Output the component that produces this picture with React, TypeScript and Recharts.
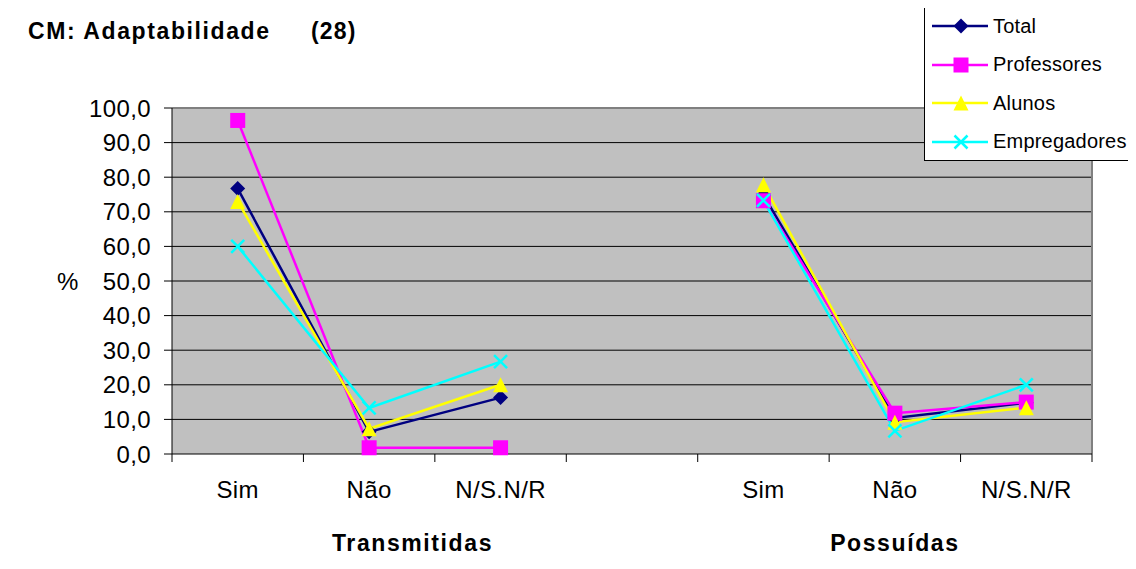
import React from 'react';
import {
  LineChart, Line, XAxis, YAxis, CartesianGrid, ReferenceLine, Label,
} from 'recharts';

const categories = ['Sim', 'Não', 'N/S.N/R', '', 'Sim', 'Não', 'N/S.N/R'];
const groupLabels = ['Transmitidas', 'Possuídas'];
const groupCenters = [1.83, 5.5];
const total = [76.7, 6.4, 16.3, null, 74.8, 10.4, 14.8];
const professores = [96.4, 1.8, 1.8, null, 73.2, 11.8, 15.0];
const alunos = [73.0, 7.3, 20.0, null, 77.8, 9.2, 13.4];
const empregadores = [60.0, 13.3, 26.7, null, 73.3, 6.7, 20.0];
const yTicks = [0, 10, 20, 30, 40, 50, 60, 70, 80, 90, 100];
const gridValues = [10, 20, 30, 40, 50, 60, 70, 80, 90];

const data = categories.map((c, i) => ({
  x: i + 0.5,
  cat: c,
  Total: total[i],
  Professores: professores[i],
  Alunos: alunos[i],
  Empregadores: empregadores[i],
}));

const slotEdges = categories.map((_, i) => i).concat([categories.length]);
const catCenters = categories.map((c, i) => (c ? i + 0.5 : null)).filter((v) => v !== null) as number[];

const FONT = '"Liberation Sans", Arial, sans-serif';

const series = [
  { key: 'Total', color: '#000080', shape: 'diamond' },
  { key: 'Professores', color: '#FF00FF', shape: 'square' },
  { key: 'Alunos', color: '#FFFF00', shape: 'triangle' },
  { key: 'Empregadores', color: '#00FFFF', shape: 'x' },
];

function Marker({ cx, cy, shape, color }: any) {
  if (cx == null || cy == null || isNaN(cx) || isNaN(cy)) return <g />;
  if (shape === 'diamond') {
    const r = 7.5;
    return <polygon points={`${cx},${cy - r} ${cx + r},${cy} ${cx},${cy + r} ${cx - r},${cy}`} fill={color} />;
  }
  if (shape === 'square') {
    const r = 7.5;
    return <rect x={cx - r} y={cy - r} width={2 * r} height={2 * r} fill={color} />;
  }
  if (shape === 'triangle') {
    const r = 7.5;
    return <polygon points={`${cx},${cy - r} ${cx + r},${cy + r} ${cx - r},${cy + r}`} fill={color} />;
  }
  const r = 6.5;
  return (
    <g stroke={color} strokeWidth={2.5}>
      <line x1={cx - r} y1={cy - r} x2={cx + r} y2={cy + r} />
      <line x1={cx - r} y1={cy + r} x2={cx + r} y2={cy - r} />
    </g>
  );
}

function LegendBox() {
  return (
    <div
      style={{
        position: 'absolute',
        left: 916,
        top: -2,
        width: 212,
        height: 153,
        borderLeft: '1px solid #000',
        borderTop: '1px solid #000',
        borderBottom: '1px solid #000',
        background: '#fff',
        fontFamily: FONT,
        fontSize: 20,
        letterSpacing: 0.2,
        zIndex: 2,
        overflow: 'hidden',
      }}
    >
      {series.map((s, i) => (
        <div key={s.key} style={{ position: 'absolute', left: 0, top: 19 + i * 38.5 - 14, height: 28, display: 'flex', alignItems: 'center' }}>
          <svg width={68} height={28}>
            <line x1={7} y1={14} x2={63} y2={14} stroke={s.color} strokeWidth={2.5} />
            <Marker cx={36} cy={14} shape={s.shape} color={s.color} />
          </svg>
          <span style={{ color: '#000', whiteSpace: 'nowrap' }}>{s.key}</span>
        </div>
      ))}
    </div>
  );
}

const tickStyle = { fontSize: 24, fill: '#000', fontFamily: FONT, letterSpacing: 0.4 };
const groupStyle = { fontSize: 23, fill: '#000', fontFamily: FONT, fontWeight: 'bold', letterSpacing: 1.6 };

export default function App() {
  return (
    <div style={{ position: 'relative', width: 1128, height: 561, background: '#fff' }}>
      <svg style={{ position: 'absolute', left: 0, top: 0 }} width={400} height={60}>
        <text x={20} y={31} fontFamily={FONT} fontSize={23} fontWeight="bold" letterSpacing={1.6} fill="#000">CM: Adaptabilidade</text>
        <text x={303} y={31} fontFamily={FONT} fontSize={23} fontWeight="bold" letterSpacing={1.2} fill="#000">(28)</text>
      </svg>
      <LineChart width={1128} height={561} data={data} margin={{ top: 100, right: 44, bottom: 0, left: 0 }}>
        <CartesianGrid horizontal vertical={false} stroke="#000" strokeWidth={1} fill="#C0C0C0" horizontalValues={gridValues} />
        <XAxis
          xAxisId="a_ticks"
          type="number"
          dataKey="x"
          domain={[0, categories.length]}
          ticks={slotEdges}
          interval={0}
          allowDataOverflow
          tickSize={8}
          tickFormatter={() => ''}
          height={8}
          stroke="#000"
          axisLine={{ stroke: '#000' }}
          tickLine={{ stroke: '#000' }}
        />
        <XAxis
          xAxisId="b_cats"
          type="number"
          dataKey="x"
          domain={[0, categories.length]}
          ticks={catCenters}
          interval={0}
          allowDataOverflow
          axisLine={false}
          tickLine={false}
          tickSize={0}
          tickMargin={19}
          height={52}
          tick={tickStyle}
          tickFormatter={(v: number) => categories[Math.floor(v)]}
        />
        <XAxis
          xAxisId="c_groups"
          type="number"
          dataKey="x"
          domain={[0, categories.length]}
          ticks={groupCenters}
          interval={0}
          allowDataOverflow
          axisLine={false}
          tickLine={false}
          tickSize={0}
          tickMargin={21}
          height={55}
          tick={groupStyle}
          tickFormatter={(v: number) => groupLabels[groupCenters.indexOf(v)]}
        />
        <YAxis
          type="number"
          domain={[0, 100]}
          ticks={yTicks}
          interval={0}
          width={164}
          tickSize={8}
          tickMargin={13}
          tick={tickStyle}
          axisLine={{ stroke: '#000' }}
          tickLine={{ stroke: '#000' }}
          tickFormatter={(v: number) => v.toFixed(1).replace('.', ',')}
        >
          <Label value="%" position="insideLeft" offset={49} style={{ fontSize: 24, fill: '#000', fontFamily: FONT }} />
        </YAxis>
        <ReferenceLine xAxisId="a_ticks" y={100} stroke="#808080" strokeWidth={2} />
        <ReferenceLine xAxisId="a_ticks" x={categories.length} stroke="#808080" strokeWidth={2} />
        {series.map((s) => (
          <Line
            key={s.key}
            xAxisId="a_ticks"
            type="linear"
            dataKey={s.key}
            stroke={s.color}
            strokeWidth={2.5}
            isAnimationActive={false}
            connectNulls={false}
            dot={(p: any) => <Marker key={`${s.key}-${p.index}`} cx={p.cx} cy={p.cy} shape={s.shape} color={s.color} />}
            activeDot={false}
          />
        ))}
      </LineChart>
      <div style={{ position: 'absolute', left: -1, top: -1, width: 1129, height: 562, borderLeft: '1px solid #000', borderTop: '1px solid #000', pointerEvents: 'none', boxSizing: 'border-box', zIndex: 1 }} />
      <LegendBox />
    </div>
  );
}
